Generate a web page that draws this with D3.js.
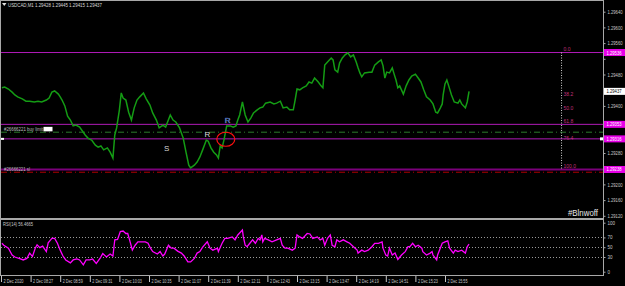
<!DOCTYPE html>
<html>
<head>
<meta charset="utf-8">
<style>
html, body { margin: 0; padding: 0; background: #000; }
svg { display: block; font-family: "Liberation Sans", Arial, sans-serif; }
</style>
</head>
<body>
<svg width="625" height="286"></svg>
<script src="https://d3js.org/d3.v7.min.js"></script>
<script>
// USDCAD M1 chart, 2 Dec 2020, bars counted in minutes from 07:55
var symbolTitle = "USDCAD,M1",
    lastBar = [1.29428, 1.29445, 1.29415, 1.29437];

var priceBars = [1,4,8,12,15,18,23,27,31,36,40,44,49,52,55,58,62,64,66,69,
    72,75,78,81,85,91,94,98,102,105,108,111,115,118,121,123,125,128,130,132,
    135,138,141,144,147,150,154,157,161,164,168,171,175,178,183,186,189,193,197,200,
    203,205,209,212,215,218,222,224,227,230,233,235,237,239,241,244,248,251,254,256,
    258,261,264,267,270,273,277,280,283,286,291,295,298,302,305,309,312,316,318,320,
    323,326,330,333,336,339,343,346,348,350,353,357,359,361,364,366,369,372,375,378,
    381,384,386,388,390,393,398,401,404,408,411,413,415,417,420,423,425,427,429,431,
    435,438,441,444,448,451,454,457,460,464,467,470,472,475,477,478,480,482,484,487,
    490,494,496,498,502,504,506];

var priceCloses = [1.29446,1.29448,1.29443,1.29435,1.29428,1.29423,1.29418,1.29412,1.29412,1.29410,
    1.29412,1.29410,1.29415,1.29420,1.29435,1.29438,1.29430,1.29423,1.29415,1.29400,
    1.29374,1.29364,1.29349,1.29351,1.29346,1.29326,1.29318,1.29313,1.29300,1.29295,
    1.29298,1.29288,1.29293,1.29282,1.29267,1.29326,1.29344,1.29390,1.29433,1.29420,
    1.29415,1.29384,1.29364,1.29395,1.29415,1.29423,1.29433,1.29418,1.29402,1.29382,
    1.29364,1.29344,1.29351,1.29346,1.29377,1.29364,1.29359,1.29344,1.29318,1.29282,
    1.29249,1.29242,1.29249,1.29257,1.29270,1.29288,1.29313,1.29310,1.29293,1.29282,
    1.29275,1.29267,1.29298,1.29293,1.29313,1.29349,1.29349,1.29346,1.29349,1.29364,
    1.29377,1.29410,1.29377,1.29359,1.29369,1.29382,1.29390,1.29395,1.29397,1.29407,
    1.29410,1.29405,1.29407,1.29412,1.29395,1.29397,1.29390,1.29390,1.29415,1.29443,
    1.29441,1.29446,1.29451,1.29461,1.29458,1.29471,1.29461,1.29451,1.29446,1.29504,
    1.29512,1.29522,1.29517,1.29492,1.29486,1.29509,1.29522,1.29530,1.29535,1.29525,
    1.29530,1.29512,1.29497,1.29484,1.29474,1.29484,1.29486,1.29486,1.29504,1.29512,
    1.29517,1.29502,1.29471,1.29486,1.29484,1.29497,1.29481,1.29466,1.29446,1.29451,
    1.29430,1.29451,1.29466,1.29476,1.29481,1.29471,1.29461,1.29441,1.29423,1.29415,
    1.29405,1.29384,1.29382,1.29395,1.29405,1.29428,1.29456,1.29466,1.29451,1.29428,
    1.29410,1.29407,1.29415,1.29405,1.29395,1.29410,1.29437];

var rsiBars = [1,3,8,12,15,21,24,28,31,34,37,39,42,45,49,51,55,58,61,64,
    67,70,75,78,82,85,89,92,96,99,103,107,110,114,118,121,123,126,129,132,
    135,137,139,142,145,148,152,156,159,161,164,169,172,175,177,181,184,187,191,195,
    198,202,205,209,212,215,218,223,226,229,234,235,239,242,245,250,253,256,261,262,
    264,266,269,272,275,278,280,282,283,285,289,293,298,302,304,307,310,315,318,320,
    323,326,331,334,337,342,345,348,350,353,356,358,361,363,366,370,374,377,381,385,
    386,390,393,397,401,404,408,412,413,416,418,420,423,426,429,433,437,440,442,445,
    448,451,455,456,460,464,466,467,471,472,477,480,483,485,489,491,494,498,502,504,506];

var rsiValues = [58,54,48,34,30,26,24,27,38,31,48,55,49,52,41,59,68,68,58,44,
    32,24,18,24,26,24,14,24,24,26,17,27,37,30,36,32,65,66,82,83,
    78,78,65,44,54,61,61,61,58,50,41,36,41,32,36,54,48,48,42,38,
    32,20,20,27,38,41,50,61,48,44,48,41,58,68,68,71,65,75,85,71,
    54,51,58,65,58,68,65,75,61,68,65,61,65,68,54,48,48,44,48,75,
    71,68,78,77,68,71,65,68,54,68,75,54,51,65,61,65,61,58,51,44,
    38,44,41,44,51,58,58,61,48,34,32,48,34,38,25,34,41,51,51,58,
    51,54,48,41,34,38,41,34,24,34,58,61,63,48,38,44,41,44,38,51,56.4665];

var priceTicks = [1.29640,1.29600,1.29560,1.29520,1.29480,1.29440,1.29400,
    1.29360,1.29320,1.29280,1.29240,1.29200,1.29160,1.29120];
var rsiTicks = [0, 30, 50, 70, 100],
    rsiLevels = [30, 50, 70];

var dateTicks = [0,32,64,96,128,160,192,224,256,288,320,352,384,416,448,480];
var dateLabels = ["2 Dec 2020","2 Dec 08:27","2 Dec 08:59","2 Dec 09:31","2 Dec 10:03",
    "2 Dec 10:35","2 Dec 11:07","2 Dec 11:39","2 Dec 12:11","2 Dec 12:43","2 Dec 13:15",
    "2 Dec 13:47","2 Dec 14:19","2 Dec 14:51","2 Dec 15:23","2 Dec 15:55"];

var fibLevels = [0, 38.2, 50, 61.8, 76.4, 100],
    fibHigh = 1.29536,
    fibLow = 1.29238,
    fibBar = 606;

var topLine = 1.29536,
    buyLimit = 1.29353,
    greenLevel = 1.29333,
    entryLine = 1.29316,
    stopLoss = 1.29238,
    redLevel = 1.29231,
    orderTicket = "#26666221";

var marks = ["S", "R", "R"],
    markBars = [179, 223, 245],
    markPrices = [1.29293, 1.29328, 1.29364],
    circleBar = 243,
    circlePrice = 1.29315;


var svg = d3.select("svg"),
    x = d3.scaleLinear().domain([0, 650]).range([1, 602.25]),
    y = d3.scaleLinear().domain([1.29120, 1.29640]).range([215.8, 11.7]),
    yRsi = d3.scaleLinear().domain([0, 100]).range([271.7, 222.7]),
    fmt = d3.format(".5f"),
    frame = "#a8a8a8",
    axisText = "#c8c8c8",
    tagPrices = [topLine, buyLimit, entryLine, stopLoss, lastBar[3]];

svg.append("rect").attr("width", 625).attr("height", 286).attr("fill", "#000");

drawFrame();
drawLevels();
drawPrice();
drawFib();
drawMarks();
drawRsi();
drawAxes();
drawTexts();


function hline(price, color, width, dash) {
    var l = svg.append("line")
        .attr("x1", 1).attr("x2", 603)
        .attr("y1", y(price)).attr("y2", y(price))
        .attr("stroke", color)
        .attr("stroke-width", width);
    if (dash) l.attr("stroke-dasharray", dash);
    return l;
}
function drawFrame() {
    var g = svg.append("g").attr("stroke", frame).attr("stroke-width", 1);
    g.append("line").attr("x1", 0).attr("x2", 603.5).attr("y1", 0.5).attr("y2", 0.5);
    g.append("line").attr("x1", 0.5).attr("x2", 0.5).attr("y1", 0).attr("y2", 276);
    g.append("line").attr("x1", 603.5).attr("x2", 603.5).attr("y1", 0).attr("y2", 276);
    g.append("line").attr("x1", 0).attr("x2", 603.5).attr("y1", 275.5).attr("y2", 275.5);
    g.append("line").attr("x1", 0).attr("x2", 603.5).attr("y1", 219).attr("y2", 219)
        .attr("stroke-width", 2);
}
function drawLevels() {
    hline(topLine, "#b01ab8", 1);
    hline(buyLimit, "#b01ab8", 1);
    hline(greenLevel, "#2a7a2a", 1, "6,3,1,3");
    hline(entryLine, "#b01ab8", 1);
    hline(stopLoss, "#7a007a", 2);
    hline(redLevel, "#b00000", 1, "6,3,1,3");

    // small white markers on the entry line
    svg.append("rect").attr("x", 1).attr("y", y(entryLine) - 1)
        .attr("width", 3).attr("height", 2).attr("fill", "#fff");
    svg.append("rect").attr("x", 600).attr("y", y(entryLine) - 1.5)
        .attr("width", 3).attr("height", 3).attr("fill", "#fff");

    svg.append("text")
        .attr("x", 4).attr("y", y(buyLimit) + 6.3)
        .attr("font-size", 5).attr("fill", "#bdbdbd")
        .attr("textLength", 39).attr("lengthAdjust", "spacingAndGlyphs")
        .text(orderTicket + " buy limit");
    svg.append("rect").attr("x", 43.5).attr("y", y(buyLimit) + 2.5)
        .attr("width", 9).attr("height", 4.5).attr("fill", "#fff");
    svg.append("text")
        .attr("x", 4).attr("y", y(stopLoss) + 1.8)
        .attr("font-size", 5).attr("fill", "#bdbdbd")
        .attr("textLength", 26).attr("lengthAdjust", "spacingAndGlyphs")
        .text(orderTicket + " sl");
}
function drawPrice() {
    var pts = priceBars.map(function(b, i) { return [b, priceCloses[i]]; });
    var line = d3.line()
        .x(function(d) { return x(d[0]); })
        .y(function(d) { return y(d[1]); });
    svg.append("path")
        .datum(pts)
        .attr("fill", "none")
        .attr("stroke", "#149c14")
        .attr("stroke-width", 1.5)
        .attr("d", line);
}
function drawFib() {
    svg.append("line")
        .attr("x1", x(fibBar)).attr("x2", x(fibBar))
        .attr("y1", y(fibHigh)).attr("y2", y(fibLow))
        .attr("stroke", "#d0d0d0")
        .attr("stroke-width", 1)
        .attr("stroke-dasharray", "1,1.5");
    svg.selectAll(".fib").data(fibLevels).enter().append("text")
        .attr("class", "fib")
        .attr("x", x(fibBar) + 2)
        .attr("y", function(d) { return y(fibHigh - (fibHigh - fibLow) * d / 100) - 1.5; })
        .attr("font-size", 5)
        .attr("fill", "#c0307a")
        .text(function(d) { return d.toFixed(1); });
}
function drawMarks() {
    svg.selectAll(".mark").data(marks).enter().append("text")
        .attr("class", "mark")
        .attr("x", function(d, i) { return x(markBars[i]); })
        .attr("y", function(d, i) { return y(markPrices[i]) + 2.8; })
        .attr("text-anchor", "middle")
        .attr("font-size", 8)
        .attr("fill", function(d, i) { return i == 2 ? "#dfe6ff" : "#d8d8d8"; })
        .attr("stroke", function(d, i) { return i == 2 ? "#3050a0" : "none"; })
        .attr("stroke-width", 0.4)
        .text(function(d) { return d; });
    svg.append("ellipse")
        .attr("cx", x(circleBar)).attr("cy", y(circlePrice))
        .attr("rx", 9).attr("ry", 7)
        .attr("fill", "none")
        .attr("stroke", "#ff1010")
        .attr("stroke-width", 1.2);
}
function drawRsi() {
    svg.selectAll(".lvl").data(rsiLevels).enter().append("line")
        .attr("class", "lvl")
        .attr("x1", 1).attr("x2", 603)
        .attr("y1", function(d) { return Math.round(yRsi(d)) + 0.5; })
        .attr("y2", function(d) { return Math.round(yRsi(d)) + 0.5; })
        .attr("stroke", "#9a9a9a")
        .attr("stroke-dasharray", "1,2");

    var pts = rsiBars.map(function(b, i) { return [b, rsiValues[i]]; });
    svg.append("path")
        .datum(pts)
        .attr("fill", "none")
        .attr("stroke", "#ff00ff")
        .attr("stroke-width", 1.3)
        .attr("d", d3.line()
            .x(function(d) { return x(d[0]); })
            .y(function(d) { return yRsi(d[1]); }));

    svg.append("text")
        .attr("x", 3).attr("y", 225.5)
        .attr("font-size", 5).attr("fill", "#c8c8c8")
        .attr("textLength", 30).attr("lengthAdjust", "spacingAndGlyphs")
        .text("RSI(14) " + rsiValues[rsiValues.length - 1].toFixed(4));
}
function styleAxis(g) {
    g.select(".domain").remove();
    g.selectAll(".tick line").attr("stroke", frame);
    g.selectAll(".tick text").attr("fill", axisText).attr("font-size", 5)
        .attr("font-family", "Liberation Sans, Arial, sans-serif");
}
function drawAxes() {
    var gy = svg.append("g")
        .attr("transform", "translate(603.5,0)")
        .call(d3.axisRight(y).tickValues(priceTicks).tickFormat(fmt).tickSize(2).tickPadding(2));
    styleAxis(gy);
    gy.selectAll(".tick text").attr("textLength", 15).attr("lengthAdjust", "spacingAndGlyphs");
    // the scale hides tick labels that sit under a highlighted price tag
    gy.selectAll(".tick text").filter(function(d) {
        return tagPrices.some(function(p) { return Math.abs(y(p) - y(d)) < 6.5; });
    }).remove();

    var gr = svg.append("g")
        .attr("transform", "translate(603.5,0)")
        .call(d3.axisRight(yRsi).tickValues(rsiTicks).tickSize(2).tickPadding(2));
    styleAxis(gr);
    gr.selectAll(".tick text").attr("font-size", 4.5);

    var gx = svg.append("g")
        .attr("transform", "translate(0,276)")
        .call(d3.axisBottom(x).tickValues(dateTicks)
            .tickFormat(function(d, i) { return dateLabels[i]; })
            .tickSize(6).tickPadding(0));
    styleAxis(gx);
    gx.selectAll(".tick line").attr("stroke", "#c8c8c8");
    gx.selectAll(".tick text")
        .attr("text-anchor", "start")
        .attr("x", 2).attr("y", 3).attr("dy", "0.71em")
        .attr("textLength", 20).attr("lengthAdjust", "spacingAndGlyphs");

    // highlighted price labels on the scale
    var hl = tagPrices.slice(0, 4);
    var tags = svg.selectAll(".tag").data(hl).enter().append("g")
        .attr("class", "tag")
        .attr("transform", function(d) { return "translate(604," + y(d) + ")"; });
    tags.append("rect").attr("x", 0).attr("y", -3.5).attr("width", 21).attr("height", 7)
        .attr("fill", "#e800e8");
    tags.append("text").attr("x", 2.5).attr("y", 2)
        .attr("font-size", 5).attr("fill", "#fff")
        .attr("textLength", 15).attr("lengthAdjust", "spacingAndGlyphs")
        .text(function(d) { return fmt(d); });

    var cur = svg.append("g").attr("transform", "translate(604," + y(lastBar[3]) + ")");
    cur.append("rect").attr("x", 0).attr("y", -3.5).attr("width", 21).attr("height", 7)
        .attr("fill", "#fff");
    cur.append("text").attr("x", 2.5).attr("y", 2)
        .attr("font-size", 5).attr("fill", "#000")
        .attr("textLength", 15).attr("lengthAdjust", "spacingAndGlyphs")
        .text(fmt(lastBar[3]));
}
function drawTexts() {
    svg.append("path").attr("d", "M2,3L6.5,3L4.25,6Z").attr("fill", "#e0e0e0");
    svg.append("text")
        .attr("x", 8).attr("y", 6.8)
        .attr("font-size", 5).attr("fill", "#d8d8d8")
        .attr("textLength", 94).attr("lengthAdjust", "spacingAndGlyphs")
        .text(symbolTitle + "  " + lastBar.map(fmt).join(" "));
    svg.append("text")
        .attr("x", 598).attr("y", 216)
        .attr("text-anchor", "end")
        .attr("font-size", 8.5).attr("fill", "#e8e8e8")
        .attr("textLength", 30).attr("lengthAdjust", "spacingAndGlyphs")
        .text("#Blnwoff");
}
</script>
</body>
</html>
